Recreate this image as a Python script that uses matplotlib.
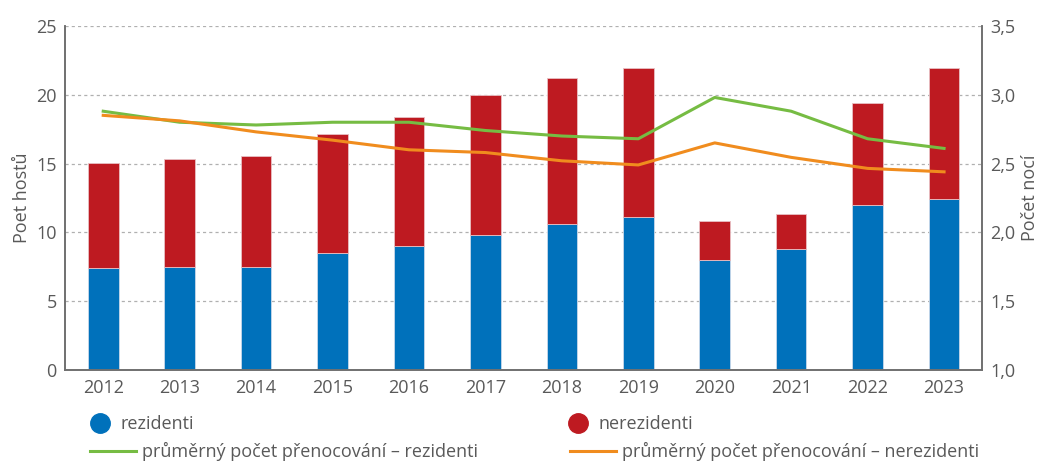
import matplotlib.pyplot as plt
from matplotlib.lines import Line2D
import numpy as np

plt.rcParams['font.family'] = ['Open Sans', 'DejaVu Sans']

roky = ['2012', '2013', '2014', '2015', '2016', '2017', '2018', '2019', '2020', '2021', '2022', '2023']
rezidenti = [7.4, 7.5, 7.5, 8.5, 9.0, 9.8, 10.6, 11.1, 8.0, 8.8, 12.0, 12.4]
celkem = [15.05, 15.35, 15.55, 17.15, 18.35, 20.0, 21.2, 21.95, 10.8, 11.35, 19.4, 21.95]
nerezidenti = [c - r for c, r in zip(celkem, rezidenti)]
noci_rez = [2.88, 2.80, 2.78, 2.80, 2.80, 2.74, 2.70, 2.68, 2.98, 2.88, 2.68, 2.61]
noci_nerez = [2.85, 2.81, 2.73, 2.67, 2.60, 2.58, 2.52, 2.49, 2.65, 2.545, 2.465, 2.44]

modra = '#0071bb'
cervena = '#be1a21'
zelena = '#76bc43'
oranzova = '#f08c1e'
seda = '#595959'

fig = plt.figure(figsize=(10.4, 4.61), dpi=100)
ax = fig.add_axes([0.0625, 0.197, 0.882, 0.747])
x = np.arange(len(roky))

ax.bar(x, rezidenti, width=0.4, color=modra, edgecolor='#c8d8ea', linewidth=0.6, zorder=2)
ax.bar(x, nerezidenti, width=0.4, bottom=rezidenti, color=cervena, edgecolor='#e8c0c4', linewidth=0.6, zorder=2)

ax.set_xlim(-0.5, 11.5)
ax.set_ylim(0, 25)
ax.set_yticks(range(0, 26, 5))
ax.set_xticks(x)
ax.set_xticklabels(roky)
ax.grid(axis='y', linestyle=(0, (2.5, 2.5)), color='#b0b0b0', linewidth=0.9, zorder=0)
ax.set_axisbelow(True)
ax.set_ylabel('Poet hostů', fontsize=13, color=seda)

ax2 = ax.twinx()
ax2.plot(x, noci_rez, color=zelena, linewidth=2.2, zorder=3)
ax2.plot(x, noci_nerez, color=oranzova, linewidth=2.2, zorder=3)
ax2.set_ylim(1.0, 3.5)
ax2.set_yticks(np.arange(1.0, 3.51, 0.5))
ax2.set_yticklabels([f'{v:.1f}'.replace('.', ',') for v in np.arange(1.0, 3.51, 0.5)])
ax2.set_ylabel('Počet nocí', fontsize=13, color=seda)

for a in (ax, ax2):
    a.spines['top'].set_visible(False)
    for s in ('left', 'right', 'bottom'):
        a.spines[s].set_color('#707070')
        a.spines[s].set_linewidth(1.2)
    a.tick_params(length=0, labelsize=13, labelcolor=seda, pad=6)

# legenda - kazda polozka zvlast, at sedi pozice
kruh_modry = Line2D([], [], marker='o', linestyle='none', markersize=14, color=modra)
kruh_cerveny = Line2D([], [], marker='o', linestyle='none', markersize=14, color=cervena)
car_zelena = Line2D([], [], color=zelena, linewidth=2.2)
car_oranzova = Line2D([], [], color=oranzova, linewidth=2.2)

polozky = [
    (kruh_modry, 'rezidenti', 89, 0.080, 1.2, 0.52),
    (kruh_cerveny, 'nerezidenti', 567, 0.080, 1.2, 0.52),
    (car_zelena, 'průměrný počet přenocování – rezidenti', 90, 0.020, 2.55, 0.33),
    (car_oranzova, 'průměrný počet přenocování – nerezidenti', 570, 0.020, 2.55, 0.33),
]
for h, lab, px, yf, hl, pad in polozky:
    fig.legend([h], [lab], loc='center left', bbox_to_anchor=(px / 1040, yf),
               frameon=False, fontsize=13, labelcolor=seda, handlelength=hl,
               handletextpad=pad, borderpad=0, borderaxespad=0)

fig.savefig('out.png', dpi=100)
